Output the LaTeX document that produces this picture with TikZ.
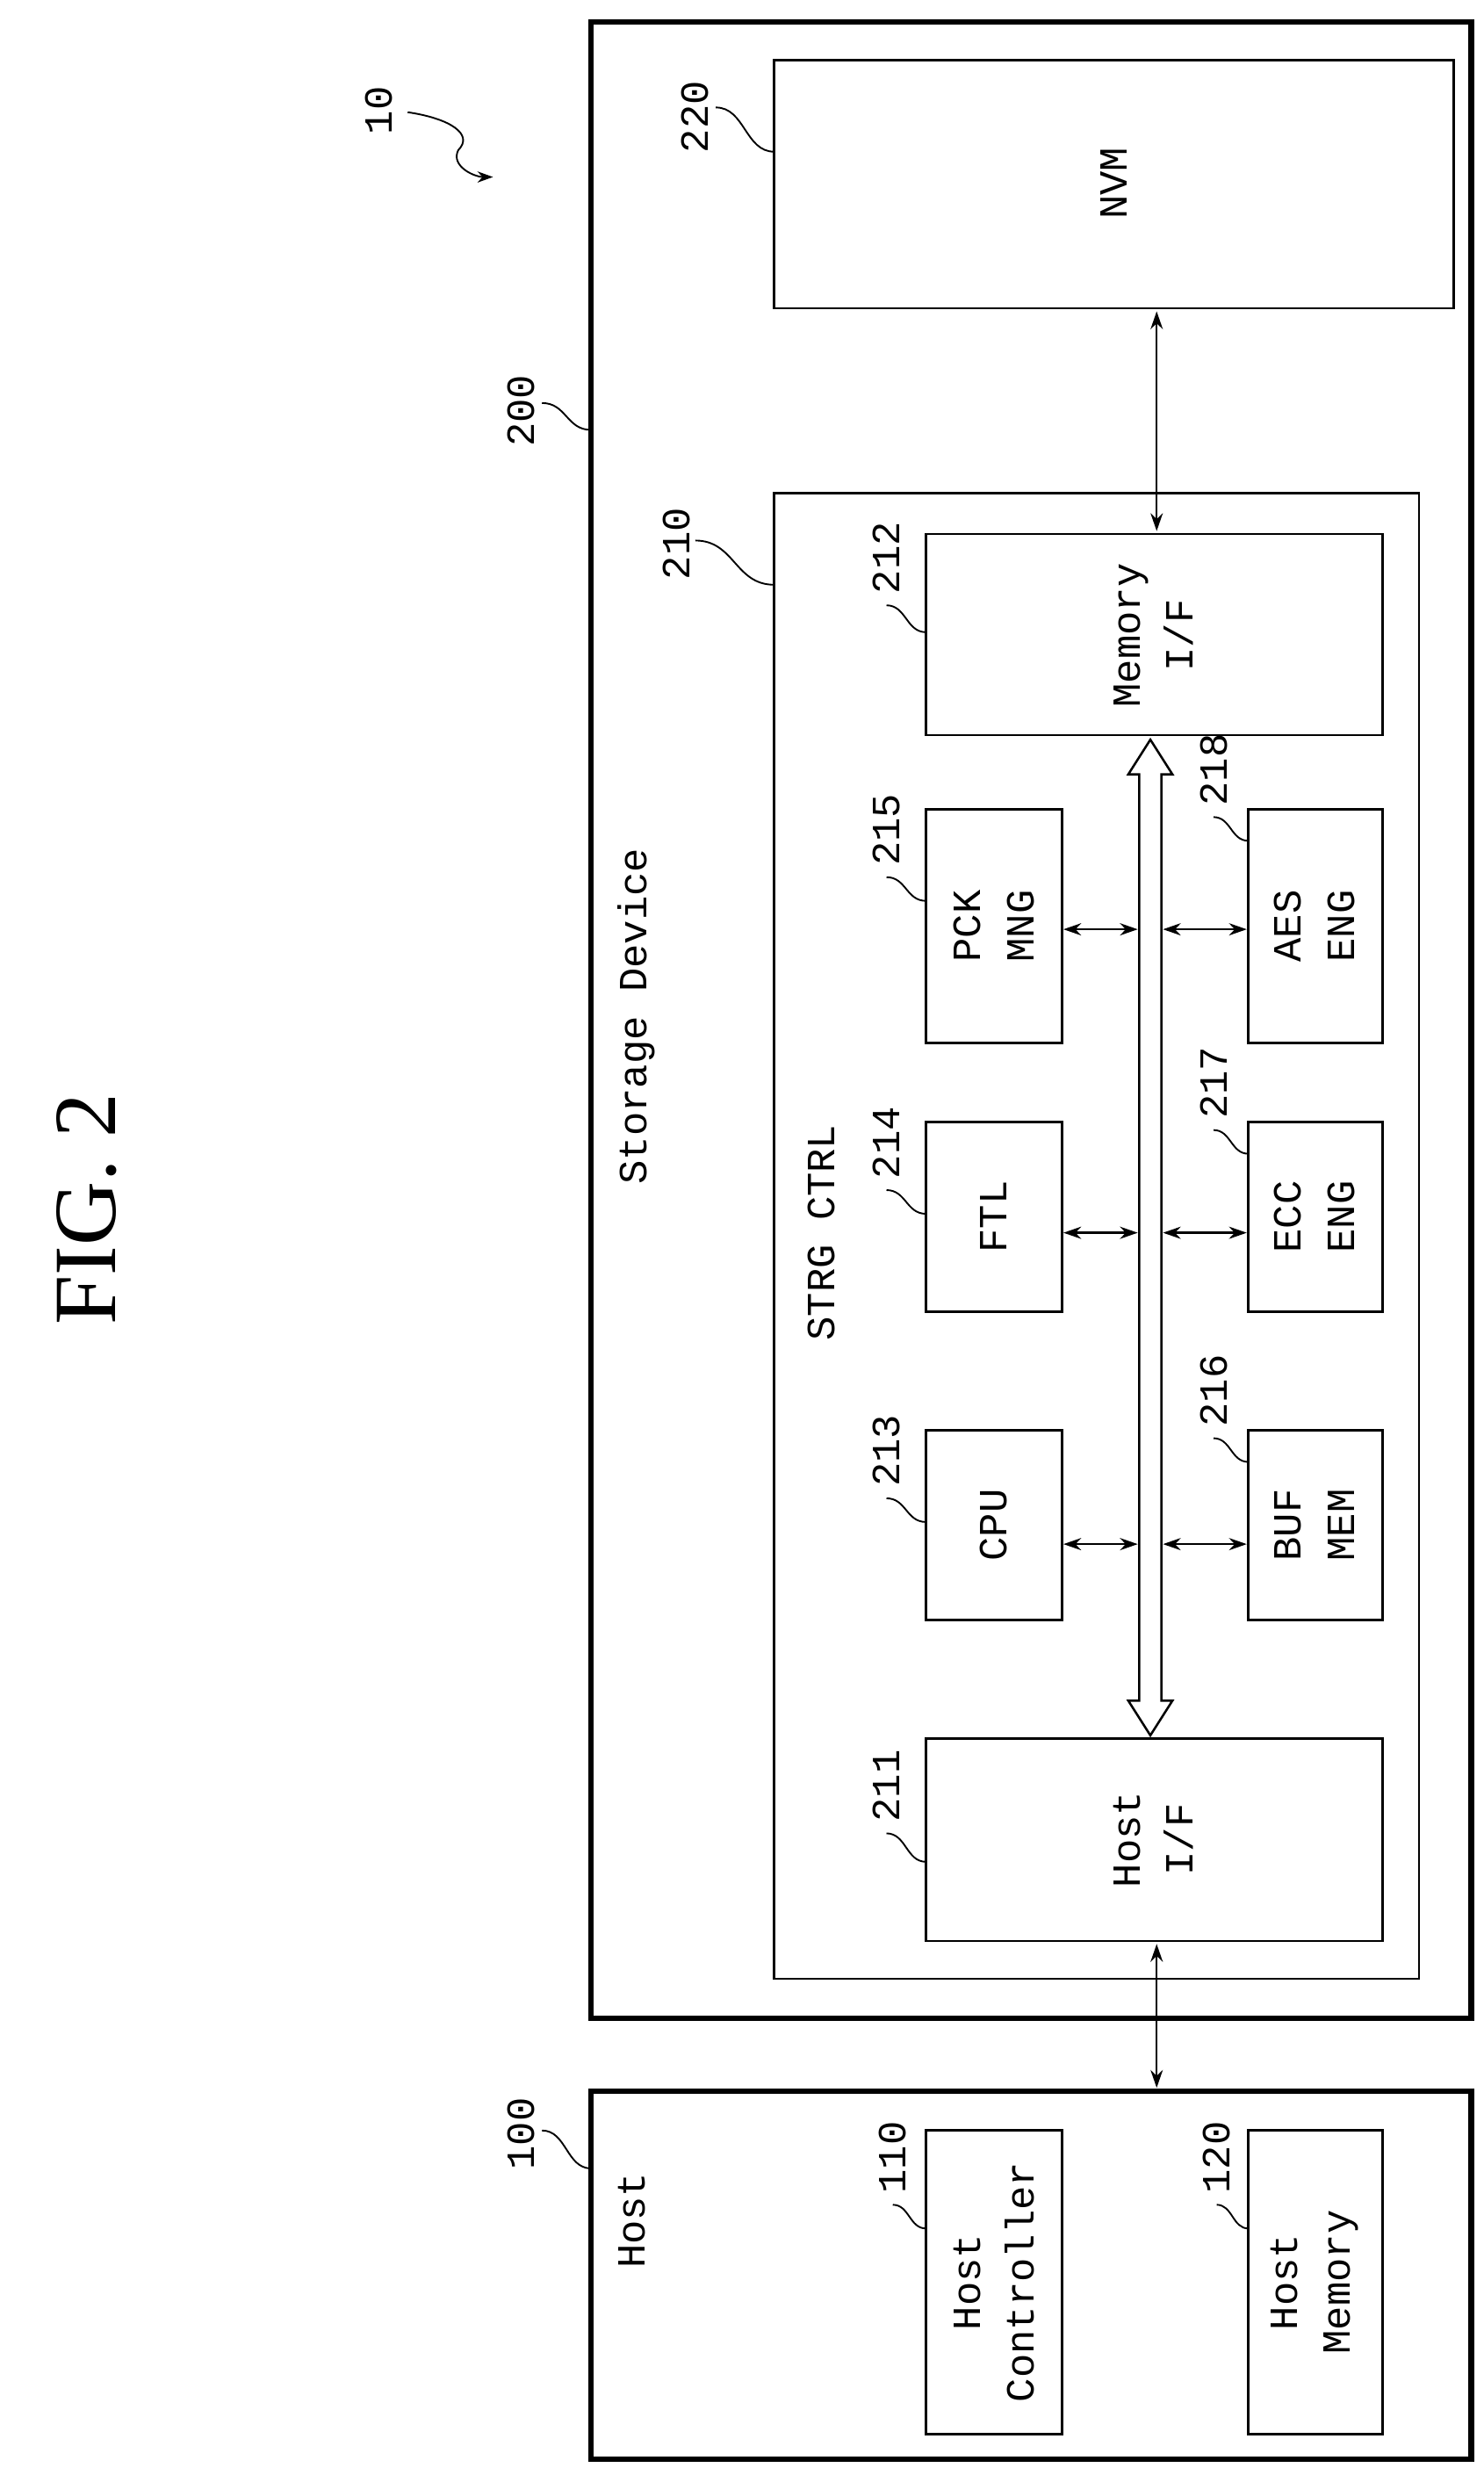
\documentclass[tikz,border=0pt]{standalone}
\usepackage{fontspec}
\setmainfont{Liberation Mono}
\newfontfamily\figfont{Liberation Serif}
\usetikzlibrary{arrows.meta}
\begin{document}
\begin{tikzpicture}[x=0.5mm,y=-0.5mm,
  outer/.style={draw,line width=5pt},
  blk/.style={draw,line width=2pt},
  txt/.style={rotate=90,font=\fontsize{36}{48}\selectfont,align=center,inner sep=0pt},
  sq/.style={line width=1.5pt},
  dbl/.style={line width=1.8pt,{Stealth[length=16pt,width=11pt]}-{Stealth[length=16pt,width=11pt]}}]
\useasboundingbox (0,0) rectangle (939,1566);
\newcommand{\reflab}[7]{\node[txt] at (#1,#2) {#3};
  \draw[sq] (#4,#5) .. controls ({(#4+#6)/2},#5) and ({(#4+#6)/2},#7) .. (#6,#7);}
% FIG
\node[rotate=90,font=\figfont\fontsize{80}{90}\selectfont] (fig) at (55,765) {FIG. 2};
% outer boxes
\draw[outer] (374,14) rectangle (931,1277);
\draw[outer] (374,1323) rectangle (931,1556);
% NVM
\draw[blk] (490,38) rectangle (920,195);
\node[txt] (nvm) at (705,116) {NVM};
% STRG CTRL
\draw[blk] (490,312) rectangle (898,1252);
\node[txt] (strg) at (520,780) {STRG CTRL};
\node[txt] (sd) at (403,643) {Storage Device};
\node[txt] (host) at (400,1405) {Host};
% inner blocks
\draw[blk] (586,338) rectangle (875,465); \node[txt] (mif) at (730,402) {Memory\\I/F};
\draw[blk] (586,1100) rectangle (875,1228); \node[txt] (hif) at (730,1164) {Host\\I/F};
\draw[blk] (586,905) rectangle (672,1025); \node[txt] (cpu) at (629,965) {CPU};
\draw[blk] (586,710) rectangle (672,830); \node[txt] (ftl) at (629,770) {FTL};
\draw[blk] (586,512) rectangle (672,660); \node[txt] (pck) at (629,586) {PCK\\MNG};
\draw[blk] (790,905) rectangle (875,1025); \node[txt] (buf) at (832,965) {BUF\\MEM};
\draw[blk] (790,710) rectangle (875,830); \node[txt] (ecc) at (832,770) {ECC\\ENG};
\draw[blk] (790,512) rectangle (875,660); \node[txt] (aes) at (832,586) {AES\\ENG};
\draw[blk] (586,1348) rectangle (672,1540); \node[txt] (hc) at (629,1444) {Host\\Controller};
\draw[blk] (790,1348) rectangle (875,1540); \node[txt] (hm) at (832,1444) {Host\\Memory};
% bus
\draw[line width=2pt,fill=white] (721,490) -- (721,1076) -- (714,1076) -- (728,1098) -- (742,1076) -- (735,1076) -- (735,490) -- (742,490) -- (728,468) -- (714,490) -- cycle;
% small arrows
\foreach \y in {588,780,977}{
  \draw[dbl] (673,\y) -- (720,\y);
  \draw[dbl] (736,\y) -- (789,\y);}
\coordinate (a1) at (732,197); \coordinate (a2) at (732,336);
\draw[dbl] (a1) -- (a2);
\coordinate (b1) at (732,1230); \coordinate (b2) at (732,1321);
\draw[dbl] (b1) -- (b2);
% reference labels
\node[txt] (l10) at (240,70) {10};
\draw[sq,-{Stealth[length=14pt,width=10pt]}] (258,71) .. controls (285,75) and (300,85) .. (290,95) .. controls (285,105) and (300,112) .. (312,112);
\reflab{330}{260}{200}{343}{255}{374}{272}
\reflab{440}{74}{220}{453}{68}{490}{96}
\reflab{428}{344}{210}{440}{342}{490}{370}
\reflab{330}{1350}{100}{343}{1348}{374}{1372}
\reflab{561}{1130}{211}{561}{1160}{586}{1178}
\reflab{561}{353}{212}{561}{383}{586}{400}
\reflab{561}{918}{213}{561}{948}{586}{963}
\reflab{561}{723}{214}{561}{753}{586}{768}
\reflab{561}{525}{215}{561}{555}{586}{570}
\reflab{768}{880}{216}{768}{910}{790}{925}
\reflab{768}{685}{217}{768}{715}{790}{730}
\reflab{768}{487}{218}{768}{517}{790}{532}
\reflab{565}{1365}{110}{565}{1395}{586}{1410}
\reflab{770}{1365}{120}{770}{1395}{790}{1410}
\end{tikzpicture}
\end{document}
